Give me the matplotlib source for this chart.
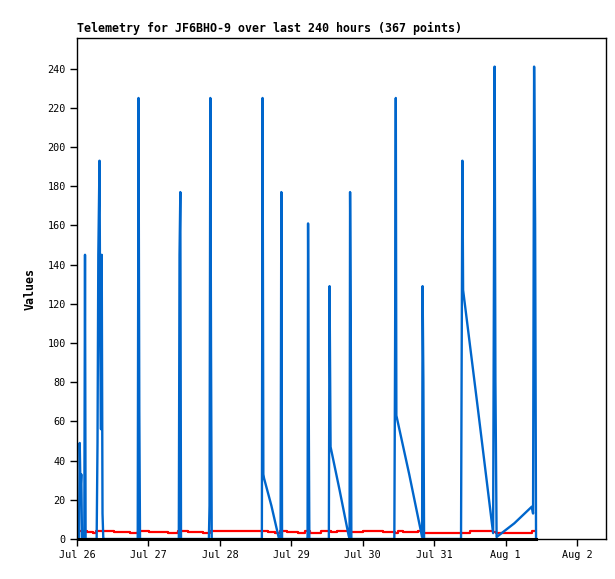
import matplotlib
matplotlib.use("Agg")
import matplotlib.pyplot as plt
import matplotlib.dates as mdates
import numpy as np
import datetime as dt

# time origin of the plot (left edge)
t0 = dt.datetime(2024, 7, 26, 0, 0)
span_hours = 177.7

# blue series: hours after t0, value
blue_hours = [0.0, 0.67, 0.91, 1.18, 1.44, 1.68, 2.45, 2.69, 2.89,
              6.6, 6.89, 7.16, 7.56, 7.83, 8.06, 8.3, 8.57, 8.84, 9.07, 9.31,
              20.4, 20.66, 20.93, 21.17,
              34.2, 34.44, 34.71, 34.94,
              44.3, 44.52, 44.79, 45.02, 45.26,
              62.1, 62.33, 62.6, 62.83, 65.3, 67.87,
              68.2, 68.38, 68.64, 68.88,
              77.3, 77.45, 77.62, 77.85, 78.05,
              84.6, 84.84, 85.18, 88.2, 91.22, 91.56, 91.73, 91.96, 92.16,
              106.6, 106.85, 107.09, 107.28, 111.6, 115.92, 116.09, 116.35, 116.59,
              129.0, 129.19, 129.46, 129.7, 134.7, 139.78, 140.28, 140.55, 140.95,
              146.9, 152.78, 153.2, 153.55, 153.89, 154.2]
blue_vals = [0, 0, 49, 25, 33, 0, 0, 145, 0,
             0, 49, 145, 193, 97, 56, 145, 13, 0, 0, 0,
             0, 225, 65, 0,
             0, 145, 177, 0,
             0, 17, 225, 97, 0,
             0, 225, 33, 31, 17, 0,
             0, 0, 177, 0,
             0, 0, 161, 65, 0,
             0, 129, 47, 25, 2, 0, 177, 113, 0,
             0, 97, 225, 63, 33, 1, 129, 81, 0,
             0, 81, 193, 127, 66, 3, 241, 81, 1,
             8, 16.5, 13, 241, 161, 0]

# red series (step values)
red_hours = [0.67, 3.5, 5.5, 6.5, 12.3, 17.8, 20.6, 24.3, 30.7, 34.0, 37.4,
             42.2, 44.7, 64.3, 66.5, 68.2, 70.5, 74.4, 76.6, 78.4, 82.0,
             85.4, 87.2, 92.2, 96.1, 102.8, 106.7, 107.8, 109.5, 114.5, 116.3,
             132.0, 139.8, 140.9, 152.8, 153.8]
red_vals = [4.2, 3.7, 3.2, 4.2, 3.7, 3.2, 4.2, 3.7, 3.2, 4.2, 3.7,
            3.2, 4.2, 3.7, 3.2, 4.2, 3.7, 3.2, 4.2, 3.2, 4.2,
            3.7, 4.2, 3.7, 4.2, 3.7, 3.2, 4.2, 3.7, 4.2, 3.2,
            4.2, 3.7, 3.2, 4.2, 4.2]

black_hours = [0.67, 154.2]
black_vals = [0, 0]

title = "Telemetry for JF6BHO-9 over last 240 hours (367 points)"
y_ticks = list(range(0, 241, 20))


def to_dates(hours):
    return [t0 + dt.timedelta(hours=h) for h in hours]


plt.rcParams['font.family'] = ['DejaVu Sans Mono']

fig = plt.figure(figsize=(6.15, 5.79), dpi=100)
ax = fig.add_axes([77/615, 1-539/579, (606-77)/615, (539-38)/579])

ax.plot(to_dates(red_hours), red_vals, color='#ff0000', lw=1.6,
        drawstyle='steps-post')
ax.plot(to_dates(blue_hours), blue_vals, color='#0066cc', lw=1.7)
ax.plot(to_dates(black_hours), black_vals, color='black', lw=2.2,
        clip_on=False)

ax.set_xlim(t0, t0 + dt.timedelta(hours=span_hours))
ax.set_ylim(0, 255.6)
ax.set_yticks(y_ticks)
ax.xaxis.set_major_locator(mdates.DayLocator())
ax.xaxis.set_major_formatter(mdates.DateFormatter('%b %-d'))

ax.tick_params(axis='both', direction='out', length=5, width=1,
               labelsize=7.3, pad=3)
for s in ax.spines.values():
    s.set_linewidth(1)

ax.set_title(title, loc='left', fontsize=8.4, fontweight='bold', pad=4)
ax.set_ylabel('Values', fontsize=8.4, fontweight='bold', labelpad=8)

fig.savefig('out.png', dpi=100)
